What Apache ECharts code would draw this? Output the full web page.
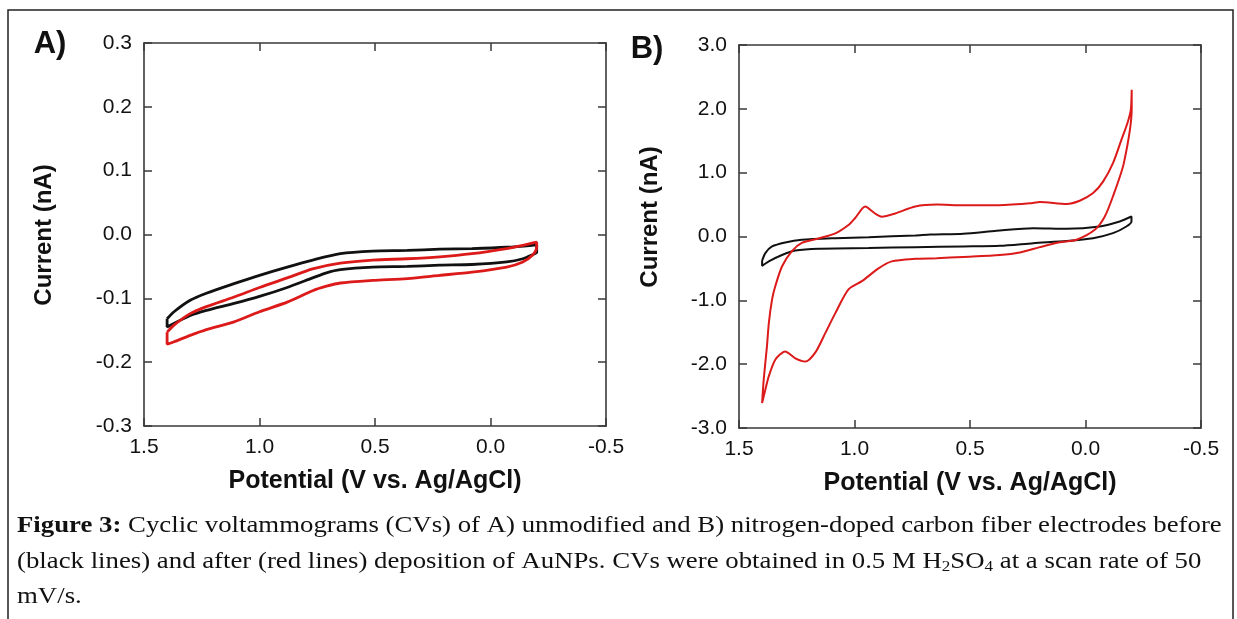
<!DOCTYPE html>
<html>
<head>
<meta charset="utf-8">
<script src="https://cdn.jsdelivr.net/npm/echarts@6/dist/echarts.min.js"></script>
<style>
html,body{margin:0;padding:0;background:#fff;}
#chart{width:1237px;height:619px;}
</style>
</head>
<body>
<div id="chart"></div>
<script>
// ---------- Data ----------
// Panel A: unmodified carbon fiber electrode
const aBlackV = [1.40, 1.37, 1.30, 1.23, 1.11, 1.00, 0.88, 0.77, 0.65, 0.51, 0.36, 0.22, 0.08, -0.07, -0.18, -0.20,
                 -0.20, -0.18, -0.14, -0.07, 0.08, 0.22, 0.36, 0.51, 0.65, 0.71, 0.77, 0.88, 1.00, 1.11, 1.23, 1.30, 1.40, 1.40];
const aBlackI = [-0.132, -0.121, -0.103, -0.092, -0.077, -0.064, -0.051, -0.040, -0.030, -0.026, -0.025, -0.023, -0.022, -0.020, -0.017, -0.016,
                 -0.028, -0.032, -0.038, -0.043, -0.047, -0.048, -0.050, -0.051, -0.055, -0.060, -0.068, -0.083, -0.097, -0.108, -0.119, -0.127, -0.145, -0.132];
const aRedV = [1.40, 1.37, 1.30, 1.23, 1.11, 1.00, 0.88, 0.77, 0.65, 0.51, 0.36, 0.22, 0.08, -0.07, -0.14, -0.20,
               -0.20, -0.18, -0.14, -0.07, 0.08, 0.22, 0.36, 0.51, 0.65, 0.71, 0.77, 0.88, 1.00, 1.11, 1.23, 1.30, 1.37, 1.40, 1.40];
const aRedI = [-0.153, -0.142, -0.124, -0.113, -0.098, -0.083, -0.068, -0.054, -0.045, -0.040, -0.038, -0.035, -0.030, -0.022, -0.017, -0.012,
               -0.020, -0.033, -0.043, -0.051, -0.059, -0.064, -0.069, -0.072, -0.076, -0.081, -0.088, -0.106, -0.121, -0.137, -0.149, -0.158, -0.168, -0.172, -0.153];

// Panel B: nitrogen-doped carbon fiber electrode
const bBlackV = [1.40, 1.386, 1.357, 1.300, 1.228, 1.083, 0.939, 0.737, 0.672, 0.529, 0.385, 0.226, 0.082, -0.062, -0.148, -0.199,
                 -0.199, -0.177, -0.119, -0.033, 0.082, 0.226, 0.370, 0.529, 0.737, 0.939, 1.155, 1.256, 1.314, 1.371, 1.40, 1.40];
const bBlackI = [-0.38, -0.26, -0.156, -0.094, -0.052, -0.026, -0.010, 0.016, 0.030, 0.045, 0.090, 0.131, 0.120, 0.157, 0.235, 0.313,
                 0.235, 0.157, 0.052, -0.026, -0.070, -0.104, -0.146, -0.156, -0.167, -0.180, -0.190, -0.220, -0.290, -0.390, -0.460, -0.38];
const bRedV = [1.400, 1.393, 1.379, 1.371, 1.357, 1.343, 1.314, 1.271, 1.228, 1.155, 1.083, 1.026, 0.997, 0.954, 0.911, 0.882, 0.824, 0.737,
               0.644, 0.529, 0.385, 0.241, 0.197, 0.082, 0.025, -0.033, -0.076, -0.119, -0.155, -0.181, -0.196, -0.200, -0.200,
               -0.166, -0.119, -0.083, -0.040, 0.039, 0.111, 0.197, 0.284, 0.370, 0.529, 0.644, 0.737, 0.839, 0.896, 0.968, 1.026,
               1.083, 1.126, 1.170, 1.213, 1.256, 1.300, 1.343, 1.371, 1.386, 1.400];
const bRedI = [-2.61, -2.24, -1.72, -1.36, -0.99, -0.78, -0.47, -0.23, -0.10, -0.03, 0.05, 0.18, 0.29, 0.47, 0.36, 0.31, 0.36, 0.47,
               0.50, 0.49, 0.49, 0.52, 0.54, 0.51, 0.56, 0.68, 0.86, 1.15, 1.51, 1.77, 1.98, 2.30, 2.00,
               1.15, 0.63, 0.31, 0.105, -0.05, -0.09, -0.166, -0.25, -0.29, -0.32, -0.34, -0.35, -0.39, -0.50, -0.70, -0.83,
               -1.20, -1.51, -1.82, -1.96, -1.91, -1.80, -1.93, -2.19, -2.40, -2.61];

const xTicks = [1.5, 1.0, 0.5, 0.0, -0.5];
const yTicksA = [0.3, 0.2, 0.1, 0.0, -0.1, -0.2, -0.3];
const yTicksB = [3.0, 2.0, 1.0, 0.0, -1.0, -2.0, -3.0];

const xTitle = 'Potential (V vs. Ag/AgCl)';
const yTitle = 'Current (nA)';
const captionLines = [
  '{b|Figure 3:} Cyclic voltammograms (CVs) of A) unmodified and B) nitrogen-doped carbon fiber electrodes before',
  '(black lines) and after (red lines) deposition of AuNPs. CVs were obtained in 0.5 M H{s|2}SO{s|4} at a scan rate of 50',
  'mV/s.'
];

// ---------- Build chart ----------
const zip = (xs, ys) => xs.map((x, i) => [x, ys[i]]);
const AX = '#3a3a3a';
const SANS = '"Liberation Sans", Arial, sans-serif';
const SERIF = '"Liberation Serif", "Times New Roman", serif';
const fmt = v => (Math.abs(v) < 1e-9 ? 0 : v).toFixed(1);

const grids = [
  {left: 144, top: 43, width: 462, height: 383},
  {left: 739, top: 45, width: 462, height: 383}
];

function xAxes(gi) {
  const base = {
    gridIndex: gi, type: 'value', inverse: true,
    min: Math.min(...xTicks), max: Math.max(...xTicks), interval: 0.5,
    axisLine: {show: true, onZero: false, lineStyle: {color: AX, width: 1.6}},
    axisTick: {show: true, inside: true, length: 8, lineStyle: {color: AX, width: 1.5}},
    splitLine: {show: false}
  };
  return [
    Object.assign({}, base, {
      position: 'bottom',
      axisLabel: {formatter: fmt, color: '#111', fontSize: 21, fontFamily: SANS, margin: 11},
      name: xTitle, nameLocation: 'middle', nameGap: 43,
      nameTextStyle: {fontSize: 25, fontWeight: 'bold', fontFamily: SANS, color: '#111'}
    }),
    Object.assign({}, base, {position: 'top', axisLabel: {show: false}})
  ];
}
function yAxes(gi, ticks) {
  const step = ticks[0] - ticks[1];
  const base = {
    gridIndex: gi, type: 'value',
    min: Math.min(...ticks), max: Math.max(...ticks), interval: step,
    axisLine: {show: true, onZero: false, lineStyle: {color: AX, width: 1.6}},
    axisTick: {show: true, inside: true, length: 8, lineStyle: {color: AX, width: 1.5}},
    splitLine: {show: false}
  };
  return [
    Object.assign({}, base, {position: 'left',
      axisLabel: {formatter: fmt, color: '#111', fontSize: 21, fontFamily: SANS, margin: 12}}),
    Object.assign({}, base, {position: 'right', axisLabel: {show: false}})
  ];
}

function series(xi, yi, data, color, w) {
  return {
    type: 'line', xAxisIndex: xi, yAxisIndex: yi, data: data,
    showSymbol: false, symbol: 'none', smooth: 0.25,
    lineStyle: {color: color, width: w}, itemStyle: {color: color},
    silent: true, animation: false, z: 3
  };
}

const RED = '#dc1a1a';
const BLK = '#111111';

const option = {
  backgroundColor: '#fff',
  animation: false,
  grid: grids,
  xAxis: [...xAxes(0), ...xAxes(1)],
  yAxis: [...yAxes(0, yTicksA), ...yAxes(1, yTicksB)],
  series: [
    series(0, 0, zip(aBlackV, aBlackI), BLK, 2.8),
    series(0, 0, zip(aRedV, aRedI), RED, 2.8),
    series(2, 2, zip(bBlackV, bBlackI), BLK, 2),
    series(2, 2, zip(bRedV, bRedI), RED, 2)
  ],
  graphic: [
    {type: 'rect', shape: {x: 8, y: 10, width: 1225, height: 640}, style: {fill: 'none', stroke: '#222', lineWidth: 1.5}, silent: true},
    {type: 'text', x: 50, y: 44, style: {text: 'A)', font: 'bold 31px ' + SANS, fill: '#111', align: 'center', verticalAlign: 'middle'}},
    {type: 'text', x: 647, y: 49, style: {text: 'B)', font: 'bold 31px ' + SANS, fill: '#111', align: 'center', verticalAlign: 'middle'}},
    {type: 'text', x: 44, y: 235, rotation: Math.PI / 2, style: {text: yTitle, font: 'bold 24px ' + SANS, fill: '#111', align: 'center', verticalAlign: 'middle'}},
    {type: 'text', x: 650, y: 217, rotation: Math.PI / 2, style: {text: yTitle, font: 'bold 24px ' + SANS, fill: '#111', align: 'center', verticalAlign: 'middle'}},
    ...captionLines.map((t, i) => ({
      type: 'text', x: 17, y: 526 + i * 35.5, scaleX: 1.14,
      style: {
        text: t, fill: '#111', align: 'left', verticalAlign: 'middle',
        fontFamily: SERIF, fontSize: 23.5, lineHeight: 26,
        rich: {
          b: {fontWeight: 'bold', fontFamily: SERIF, fontSize: 23.5, lineHeight: 26},
          s: {fontFamily: SERIF, fontSize: 15, lineHeight: 15, verticalAlign: 'bottom'}
        }
      }
    }))
  ]
};

const chart = echarts.init(document.getElementById('chart'), null, {renderer: 'canvas'});
chart.setOption(option);
</script>
</body>
</html>
